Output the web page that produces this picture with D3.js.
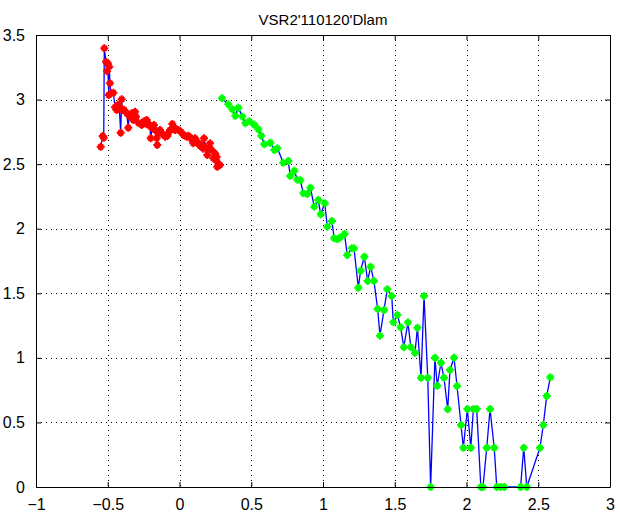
<!DOCTYPE html>
<html>
<head>
<meta charset="utf-8">
<script src="https://cdn.jsdelivr.net/npm/d3@7"></script>
<style>
  body { margin: 0; background: #fff; }
  text { font-family: "Liberation Sans", Arial, sans-serif; fill: #000; }
</style>
</head>
<body>
<div id="chart"></div>
<script>
// chart data
const title = "VSR2'110120'Dlam";
const xTicks = [-1, -0.5, 0, 0.5, 1, 1.5, 2, 2.5, 3];
const yTicks = [0, 0.5, 1, 1.5, 2, 2.5, 3, 3.5];

// first run (red markers)
const redX = [-0.549, -0.535, -0.528, -0.524, -0.512, -0.505, -0.500, -0.493, -0.489, -0.485,
  -0.477, -0.461, -0.449, -0.438, -0.430, -0.420, -0.410, -0.403, -0.399, -0.385,
  -0.368, -0.357, -0.350, -0.333, -0.322, -0.310, -0.303, -0.287, -0.263, -0.250,
  -0.240, -0.229, -0.215, -0.206, -0.201, -0.190, -0.178, -0.171, -0.159, -0.155,
  -0.145, -0.136, -0.117, -0.101, -0.085, -0.075, -0.066, -0.050, -0.040, -0.031,
  -0.020, -0.008, 0.010, 0.027, 0.040, 0.050, 0.062, 0.073, 0.085, 0.096,
  0.108, 0.120, 0.131, 0.143, 0.155, 0.165, 0.171, 0.185, 0.194, 0.203,
  0.213, 0.224, 0.236, 0.247, 0.255, 0.259, 0.263, 0.272, 0.282];
const redY = [2.635, 2.718, 2.705, 3.397, 3.293, 3.220, 3.281, 3.035, 3.255, 3.126,
  3.048, 3.053, 2.940, 2.919, 2.960, 2.950, 2.743, 3.002, 2.919, 2.919,
  2.894, 2.782, 2.873, 2.894, 2.842, 2.906, 2.867, 2.821, 2.803, 2.830,
  2.816, 2.842, 2.800, 2.803, 2.700, 2.780, 2.803, 2.764, 2.700, 2.648,
  2.740, 2.764, 2.733, 2.713, 2.718, 2.745, 2.764, 2.811, 2.780, 2.764,
  2.770, 2.764, 2.751, 2.726, 2.720, 2.713, 2.720, 2.708, 2.690, 2.661,
  2.700, 2.680, 2.661, 2.640, 2.648, 2.620, 2.700, 2.623, 2.571, 2.630,
  2.661, 2.610, 2.545, 2.584, 2.530, 2.558, 2.480, 2.500, 2.493];

// second run (green markers)
const greenX = [0.296, 0.340, 0.368, 0.389, 0.410, 0.438, 0.459, 0.487, 0.521, 0.549,
  0.570, 0.591, 0.633, 0.661, 0.682, 0.723, 0.758, 0.772, 0.800, 0.821,
  0.842, 0.863, 0.891, 0.912, 0.939, 0.967, 0.984, 1.012, 1.030, 1.062,
  1.078, 1.101, 1.123, 1.150, 1.169, 1.200, 1.216, 1.246, 1.262, 1.288,
  1.311, 1.332, 1.355, 1.381, 1.397, 1.425, 1.448, 1.479, 1.490, 1.518,
  1.541, 1.563, 1.592, 1.612, 1.641, 1.658, 1.683, 1.704, 1.730, 1.750,
  1.780, 1.796, 1.822, 1.843, 1.869, 1.885, 1.913, 1.934, 1.962, 1.978,
  2.006, 2.030, 2.048, 2.071, 2.100, 2.115, 2.141, 2.164, 2.193, 2.211,
  2.238, 2.263, 2.377, 2.399, 2.420, 2.512, 2.535, 2.559, 2.584];
const greenY = [3.010, 2.963, 2.925, 2.875, 2.937, 2.868, 2.816, 2.832, 2.805, 2.770,
  2.720, 2.654, 2.666, 2.610, 2.623, 2.511, 2.524, 2.408, 2.449, 2.380,
  2.375, 2.274, 2.269, 2.318, 2.171, 2.222, 2.112, 2.197, 2.016, 2.060,
  1.926, 1.918, 1.934, 1.959, 1.796, 1.848, 1.848, 1.543, 1.675, 1.783,
  1.595, 1.706, 1.595, 1.378, 1.172, 1.371, 1.531, 1.479, 1.275, 1.332,
  1.237, 1.083, 1.275, 1.083, 1.040, 1.233, 0.846, 1.479, 0.846, 0,
  1.001, 0.784, 0.962, 0.846, 0.602, 0.906, 1.001, 0.782, 0.480, 0.304,
  0.604, 0.304, 0.604, 0.604, 0, 0, 0.304, 0.604, 0.304, 0,
  0, 0, 0, 0.304, 0, 0.304, 0.480, 0.705, 0.849];

// size and margins
const width = 620, height = 518;
const margin = {top: 35, right: 10, bottom: 31, left: 36};

const svg = d3.select("#chart")
  .append("svg")
    .attr("width", width)
    .attr("height", height);

// scales
const xScale = d3.scaleLinear()
  .domain([-1, 3])
  .range([margin.left, width - margin.right]);
const yScale = d3.scaleLinear()
  .domain([0, 3.5])
  .range([height - margin.bottom, margin.top]);

// dotted grid
svg.append("g")
  .selectAll("line")
  .data(xTicks)
  .join("line")
    .attr("x1", d => Math.round(xScale(d)) + 0.5)
    .attr("x2", d => Math.round(xScale(d)) + 0.5)
    .attr("y1", yScale(3.5))
    .attr("y2", yScale(0))
    .attr("stroke", "#000")
    .attr("stroke-dasharray", "1,4");
svg.append("g")
  .selectAll("line")
  .data(yTicks)
  .join("line")
    .attr("x1", xScale(-1))
    .attr("x2", xScale(3))
    .attr("y1", d => Math.round(yScale(d)) + 0.5)
    .attr("y2", d => Math.round(yScale(d)) + 0.5)
    .attr("stroke", "#000")
    .attr("stroke-dasharray", "1,4");

// lines and markers
const line = d3.line()
  .x(d => xScale(d[0]))
  .y(d => yScale(d[1]));
const star = "M-4,0H4M0,-4V4M-2.5,-2.5L2.5,2.5M-2.5,2.5L2.5,-2.5";
const diamond = "M0,-2.5L2.5,0L0,2.5L-2.5,0Z";

function drawRun(xs, ys, color) {
  const pts = xs.map((x, i) => [x, ys[i]]);
  svg.append("path")
    .datum(pts)
      .attr("fill", "none")
      .attr("stroke", "#0000ff")
      .attr("stroke-width", 1.3)
      .attr("d", line);
  const marks = svg.append("g")
    .selectAll("g")
    .data(pts)
    .join("g")
      .attr("transform", d => `translate(${xScale(d[0])},${yScale(d[1])})`);
  marks.append("path")
      .attr("d", star)
      .attr("stroke", color)
      .attr("stroke-width", 2)
      .attr("fill", "none");
  marks.append("path")
      .attr("d", diamond)
      .attr("fill", color);
}
drawRun(redX, redY, "#ff0000");
drawRun(greenX, greenY, "#00ff00");

// axes with inward ticks on all four sides
const fmt = d3.format("~g");
const axBottom = svg.append("g")
  .attr("transform", `translate(0, ${height - margin.bottom})`)
  .call(d3.axisBottom(xScale).tickValues(xTicks).tickFormat(fmt).tickSizeInner(-5).tickSizeOuter(0).tickPadding(12));
const axTop = svg.append("g")
  .attr("transform", `translate(0, ${margin.top})`)
  .call(d3.axisTop(xScale).tickValues(xTicks).tickFormat("").tickSizeInner(-5).tickSizeOuter(0));
const axLeft = svg.append("g")
  .attr("transform", `translate(${margin.left}, 0)`)
  .call(d3.axisLeft(yScale).tickValues(yTicks).tickFormat(fmt).tickSizeInner(-5).tickSizeOuter(0).tickPadding(11));
const axRight = svg.append("g")
  .attr("transform", `translate(${width - margin.right}, 0)`)
  .call(d3.axisRight(yScale).tickValues(yTicks).tickFormat("").tickSizeInner(-5).tickSizeOuter(0));

[axBottom, axTop, axLeft, axRight].forEach(g => {
  g.select(".domain").attr("stroke", "#000");
  g.selectAll("text").attr("font-size", 16).attr("font-family", "Liberation Sans, Arial, sans-serif");
});

// title
svg.append("text")
  .attr("x", (xScale(-1) + xScale(3)) / 2)
  .attr("y", 25)
  .attr("text-anchor", "middle")
  .attr("font-size", 15)
  .text(title);
</script>
</body>
</html>
